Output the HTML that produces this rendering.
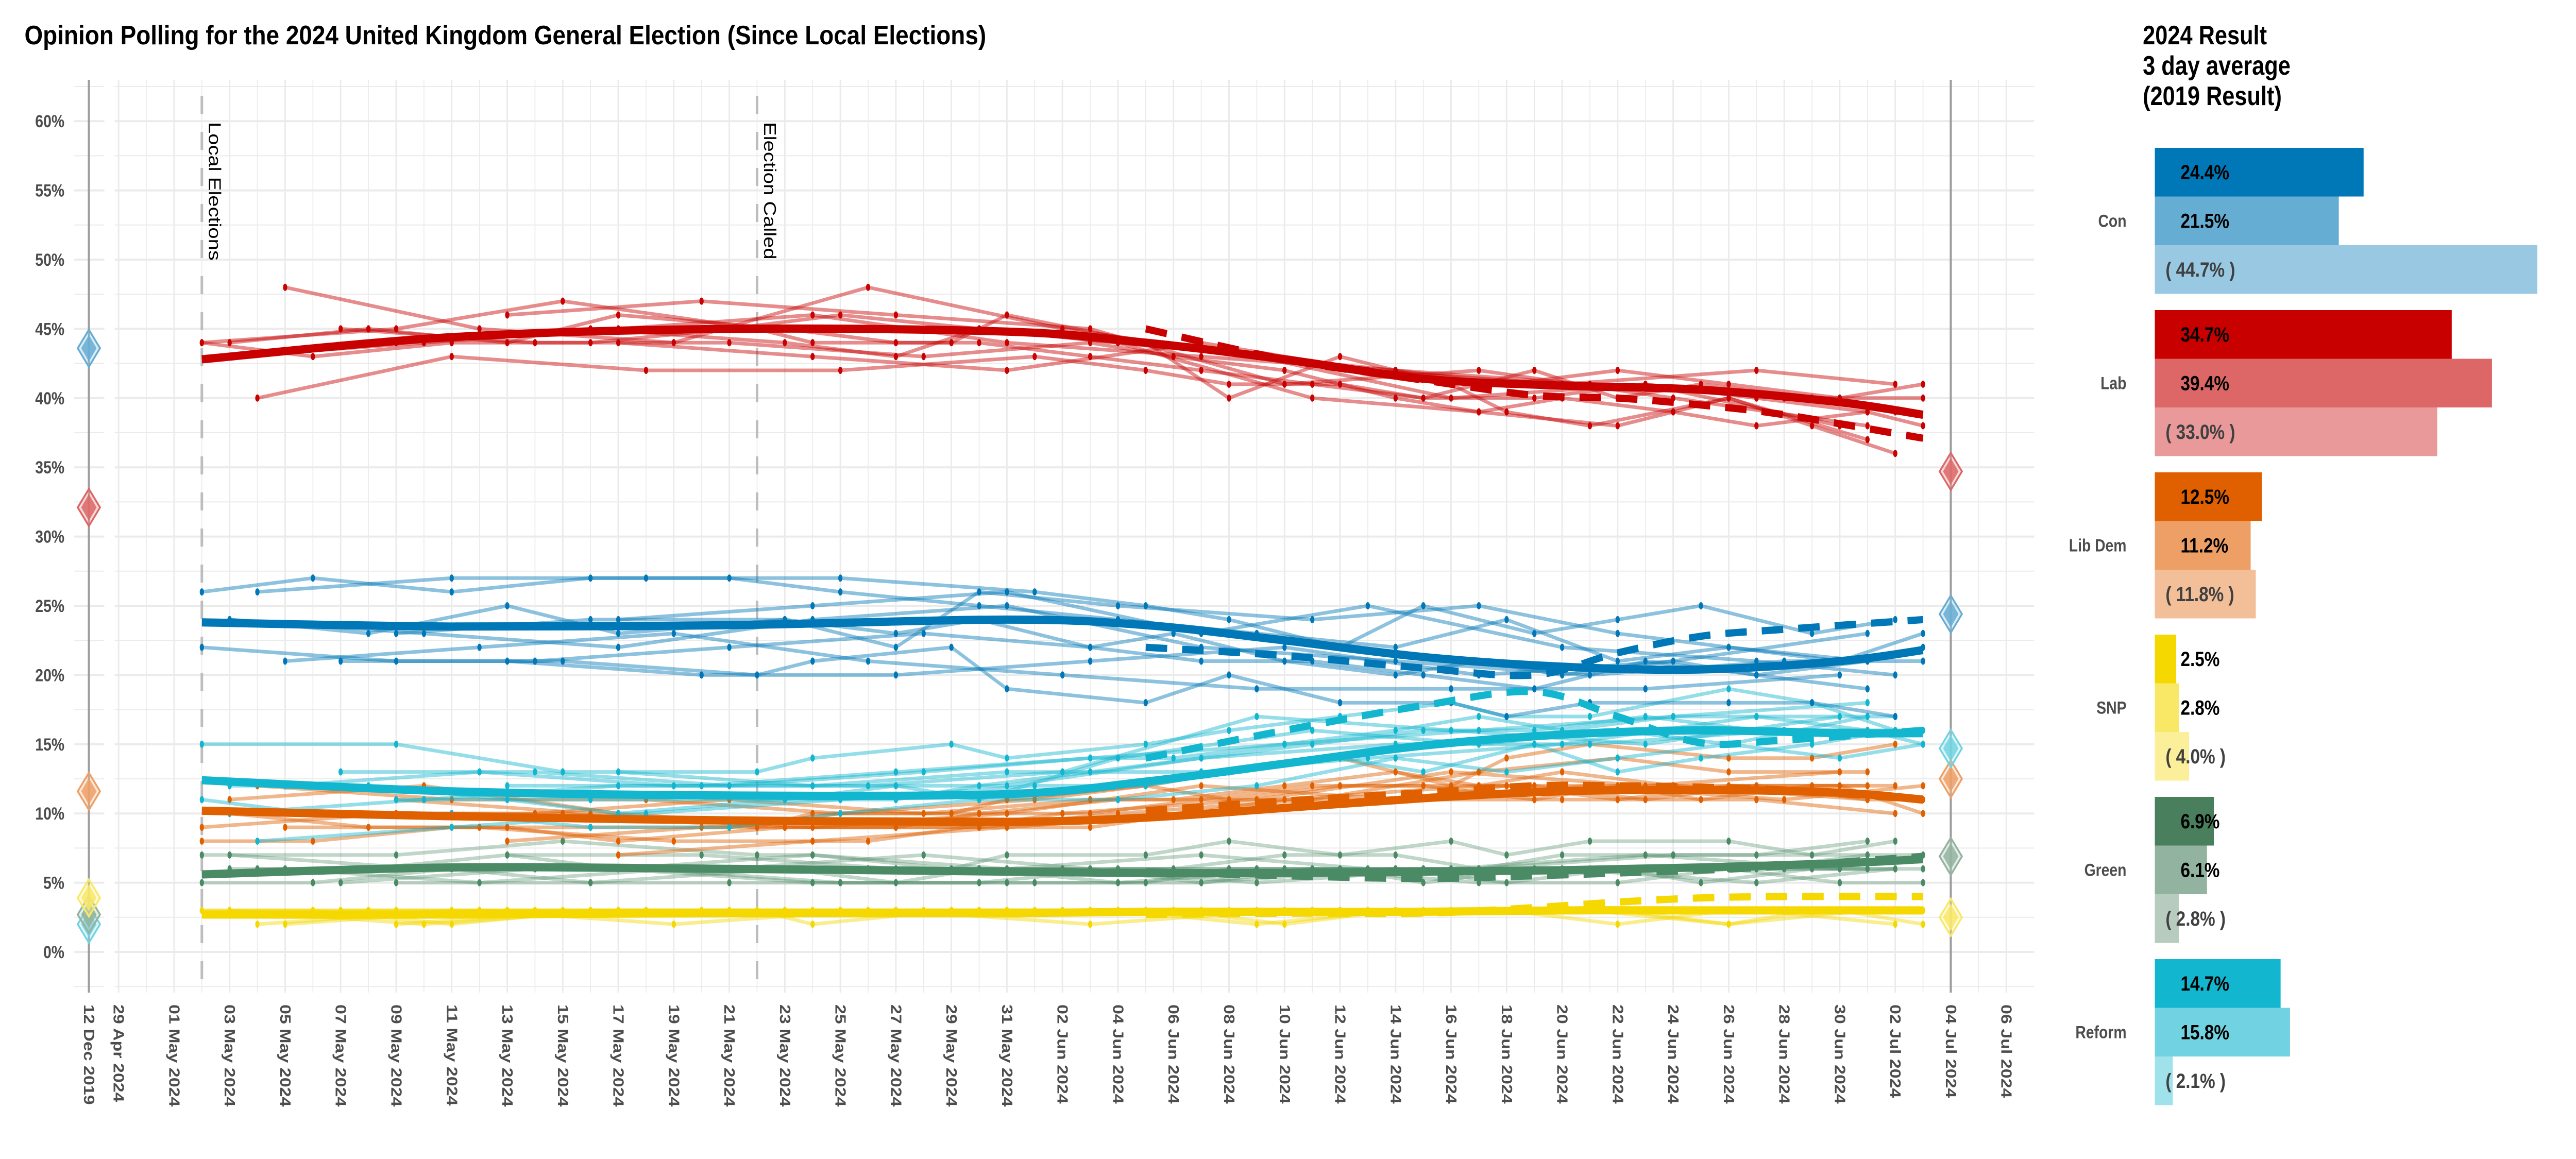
<!DOCTYPE html>
<html><head><meta charset="utf-8">
<style>
html,body{margin:0;padding:0;background:#fff;overflow:hidden;width:100%;height:100%;}
svg{display:block;width:100vw;height:100vh;font-family:"Liberation Sans",Arial,sans-serif;}
</style></head>
<body>
<svg id="chart" xmlns="http://www.w3.org/2000/svg" viewBox="0 0 6000 2250" preserveAspectRatio="none">
<text x="57" y="86" font-size="52" font-weight="bold" fill="#000" textLength="2240" lengthAdjust="spacingAndGlyphs">Opinion Polling for the 2024 United Kingdom General Election (Since Local Elections)</text>
<g id="grid"></g>
<g id="axes"></g>
<g id="polls"></g>
<g id="trends"></g>
<g id="markers"></g>
<g id="bars">
<text x="4991" y="86" font-size="52" font-weight="bold" fill="#000">2024 Result</text>
<text x="4991" y="145" font-size="52" font-weight="bold" fill="#000">3 day average</text>
<text x="4991" y="204" font-size="52" font-weight="bold" fill="#000">(2019 Result)</text>
</g>
</svg>
<script>
// ---------- data ----------
const parties = ["Con","Lab","LD","Ref","Grn","SNP"];
const partyLabels = ["Con","Lab","Lib Dem","SNP","Green","Reform"];
const result2024 = [24.4,34.7,12.5,2.5,6.9,14.7];
const avg3day = [21.5,39.4,11.2,2.8,6.1,15.8];
const result2019 = [44.7,33.0,11.8,4.0,2.8,2.1];
// diamonds (Con,Lab,LD,Ref,Grn,SNP order)
const diamond2019 = [43.6,32.1,11.6,2.0,2.7,3.9];
const diamond2024 = [24.4,34.7,12.5,14.7,6.9,2.5];
const yTicks = [0,5,10,15,20,25,30,35,40,45,50,55,60];
const xTickLabels = ["29 Apr 2024","01 May 2024","03 May 2024","05 May 2024","07 May 2024","09 May 2024","11 May 2024","13 May 2024","15 May 2024","17 May 2024","19 May 2024","21 May 2024","23 May 2024","25 May 2024","27 May 2024","29 May 2024","31 May 2024","02 Jun 2024","04 Jun 2024","06 Jun 2024","08 Jun 2024","10 Jun 2024","12 Jun 2024","14 Jun 2024","16 Jun 2024","18 Jun 2024","20 Jun 2024","22 Jun 2024","24 Jun 2024","26 Jun 2024","28 Jun 2024","30 Jun 2024","02 Jul 2024","04 Jul 2024","06 Jul 2024"];
const xTickDays = [-2,0,2,4,6,8,10,12,14,16,18,20,22,24,26,28,30,32,34,36,38,40,42,44,46,48,50,52,54,56,58,60,62,64,66];
// trend lines (days since 1 May)
const trendDays = [1,10,20,30,35,40,45,50,55,60,63];
const trendCon = [23.8,23.5,23.6,24.0,23.6,22.5,21.3,20.6,20.4,21.0,21.8];
const trendLab = [42.8,44.4,45.0,44.8,44.0,42.8,41.4,40.9,40.6,39.7,38.8];
const trendLD  = [10.2,9.8,9.5,9.4,9.7,10.4,11.1,11.6,11.7,11.5,11.0];
const trendRef = [12.4,11.6,11.3,11.4,12.3,13.6,14.9,15.7,16.0,15.8,15.8];
const trendGrn = [5.6,6.1,6.0,5.8,5.7,5.7,5.8,5.9,6.1,6.4,6.7];
const trendSNP = [2.7,2.7,2.8,2.8,2.9,2.9,2.9,3.0,3.0,3.0,3.0];
const dashDays = [35,40,45,49,52,55,58,63];
const dashCon = [22.0,21.4,20.5,20.0,21.6,22.8,23.3,24.0];
const dashLab = [45.0,42.8,41.3,40.2,40.0,39.5,38.8,37.1];
const dashLD  = [10.2,10.9,11.5,12.0,12.0,11.9,11.7,11.0];
const dashRef = [14.0,16.0,17.8,18.8,17.0,15.1,15.3,16.0];
const dashGrn = [5.8,5.5,5.3,5.5,5.7,5.9,6.2,6.9];
const dashSNP = [2.7,2.8,2.8,3.2,3.6,3.9,4.0,4.0];
// pollsters
const pollDays = [
 [2,7,12,16,22,26,29,33,37,41,45,49,53,57,61,63],
 [1,8,14,21,23,28,30,35,38,42,46,48,51,56,59,62],
 [1,5,10,15,20,24,29,34,39,44,48,52,56,60,63],
 [4,11,18,25,32,39,46,53,60],
 [3,10,17,24,31,35,38,42,45,49,52,55,59,62],
 [6,13,20,27,33,36,40,44,47,50,54,57,61],
 [2,9,16,23,30,37,44,51,58,63],
 [8,15,22,26,29,34,41,47,52,56,61],
 [12,19,26,33,40,47,54,61],
 [16,23,30,37,43,50,57,62]
];
const pollCon = [
 [24,23,25,23,24,23,24,22,21,21,20,19,21,20,21,22],
 [22,21,21,20,21,22,19,18,20,18,18,17,18,18,18,17],
 [26,27,26,27,27,26,25,24,23,22,24,21,22,21,23],
 [21,22,23,21,20,19,19,19,20],
 [26,27,27,27,26,25,24,22,25,23,24,25,23,24],
 [21,21,22,23,22,23,21,20,21,20,21,20,19],
 [24,23,22,24,25,22,21,20,21,21],
 [23,24,24,22,26,25,24,25,23,22,21],
 [21,20,20,21,22,20,21,23],
 [24,25,26,23,25,22,21,20]
];
const pollLab = [
 [44,45,44,46,45,44,44,43,42,41,40,40,41,40,39,38],
 [44,45,47,45,44,44,46,44,40,43,41,39,38,40,38,36],
 [44,43,44,44,45,46,45,44,43,42,41,42,41,40,41],
 [48,45,44,48,45,43,40,41,38],
 [40,43,42,42,43,42,41,41,40,42,40,41,40,39],
 [45,44,44,43,44,43,42,40,39,40,39,38,39],
 [43,44,45,46,44,43,42,41,40,40],
 [44,45,44,43,45,44,40,39,38,40,37],
 [46,47,46,45,41,42,40,38],
 [44,43,42,44,42,41,42,41]
];
const pollLD = [
 [10,9,9,8,9,9,10,10,11,12,12,12,11,12,11,11],
 [9,10,10,9,10,10,11,12,13,14,12,14,15,14,14,15],
 [8,8,9,9,9,10,10,11,11,11,12,11,12,12,10],
 [9,9,8,8,10,11,13,12,13],
 [12,11,11,10,11,12,11,12,12,11,12,11,12,12],
 [10,10,11,10,11,11,12,13,12,13,12,12,12],
 [11,12,10,9,10,12,11,12,11,12],
 [11,10,9,9,9,10,11,13,14,13,13],
 [8,9,9,9,11,12,12,11],
 [7,8,9,10,11,11,11,10]
];
const pollRef = [
 [12,12,11,10,11,11,12,13,14,15,16,16,17,16,16,15],
 [15,15,13,13,14,15,14,15,16,17,18,17,17,19,18,16],
 [11,10,10,9,9,10,11,11,12,14,13,14,15,14,15],
 [12,13,12,12,13,17,16,15,17],
 [8,9,10,11,12,12,13,14,13,15,13,14,15,16],
 [13,13,12,13,14,14,15,16,17,16,17,17,16],
 [10,11,12,12,12,14,15,15,16,16],
 [11,11,11,12,11,14,16,15,16,15,17],
 [12,12,13,14,15,16,17,18],
 [13,12,13,13,14,15,17,17]
];
const pollGrn = [
 [6,6,7,6,6,5,6,6,5,6,6,6,6,6,7,7],
 [7,7,8,7,7,6,7,7,8,7,8,7,8,8,7,8],
 [5,5,6,5,5,5,5,6,6,6,5,6,6,5,5],
 [6,5,6,6,6,5,6,7,6],
 [6,6,6,5,5,5,6,6,5,6,6,5,6,6],
 [5,6,6,7,6,6,7,7,6,7,7,7,8],
 [7,6,6,5,5,5,6,6,6,6],
 [5,5,6,6,6,5,6,5,5,6,6],
 [7,7,6,6,6,6,7,7],
 [6,7,6,7,6,6,5,6]
];
const pollSNP = [
 [3,3,3,3,3,3,3,3,3,3,3,3,3,3,3,3],
 [3,3,3,3,2,3,3,3,3,3,3,3,3,2,3,3],
 [3,3,2,3,3,3,3,3,2,3,3,2,3,3,2],
 [2,3,2,3,3,3,3,3,3],
 [2,3,3,3,3,3,3,3,3,3,3,3,3,3],
 [3,3,3,3,3,3,2,3,3,3,3,3,3],
 [3,2,3,3,3,3,3,3,3,3],
 [2,3,3,3,3,3,3,3,3,2,3],
 [3,3,3,2,3,3,3,3],
 [3,3,3,3,3,3,3,2]
];
// ---------- styling ----------
const colDark = {Con:"#0077b6",Lab:"#c80000",LD:"#e06000",Ref:"#12b6cf",Grn:"#4a8a64",SNP:"#f5d800"};
const colMid  = {Con:"#66add3",Lab:"#dd6666",LD:"#ed9f66",Ref:"#71d3e2",Grn:"#92b39f",SNP:"#f9e866"};
const colLight= {Con:"#99c9e2",Lab:"#e99999",LD:"#f3bf99",Ref:"#a0e2ec",Grn:"#b7ccbf",SNP:"#fbef99"};
const barDark = ["#0077b6","#c80000","#e06000","#f5d800","#4a7f5e","#12b6cf"];
const barMid  = ["#66add3","#dd6666","#ed9f66","#f9e866","#92b39f","#71d3e2"];
const barLight= ["#99c9e2","#e99999","#f3bf99","#fbef99","#b7ccbf","#a0e2ec"];

const NS="http://www.w3.org/2000/svg";
function mk(parent, tag, attrs){const e=document.createElementNS(NS,tag);for(const k in attrs)e.setAttribute(k,attrs[k]);parent.appendChild(e);return e;}
const xs = d => 405.5 + d*64.66;
const ys = v => 1848 - v*26.88;
const X2019 = 207;
const gGrid=document.getElementById('grid'), gAxes=document.getElementById('axes'),
      gPolls=document.getElementById('polls'), gTr=document.getElementById('trends'),
      gMk=document.getElementById('markers'), gBars=document.getElementById('bars');

// grid
const hGridVals=[-2.5,0,2.5,5,7.5,10,12.5,15,17.5,20,22.5,25,27.5,30,32.5,35,37.5,40,42.5,45,47.5,50,52.5,55,57.5,60,62.5];
hGridVals.forEach(v=>{
  const major = v%5===0;
  const a=mk(gGrid,'line',{x1:173,x2:243,y1:ys(v),y2:ys(v),stroke:'#ebebeb','stroke-width':major?4:2});
  
  
  const b=mk(gGrid,'line',{x1:267,x2:4738,y1:ys(v),y2:ys(v),stroke:'#ebebeb','stroke-width':major?4:2});
  
  
});
for(let d=-2;d<=66;d++){
  const l=mk(gGrid,'line',{x1:xs(d),x2:xs(d),y1:155,y2:1927,stroke:'#ebebeb','stroke-width':d%2===0?3.5:2});
  
  
}
// y labels
yTicks.forEach(v=>{
  const t=mk(gAxes,'text',{x:150,y:ys(v)+12,'text-anchor':'end','font-size':34,'font-weight':'bold',fill:'#4d4d4d'});
  t.textContent=v+'%';
  
  
});
// x labels
function xLabel(x,txt){
  const t=mk(gAxes,'text',{x:x,y:1950,'font-size':34,'font-weight':'bold',fill:'#4d4d4d','dominant-baseline':'central',transform:`rotate(90 ${x} 1950)`});
  t.textContent=txt;
  
  
}
xLabel(X2019,"12 Dec 2019");
xTickLabels.forEach((s,i)=>xLabel(xs(xTickDays[i]),s));
// vertical reference lines
[X2019, xs(64)].forEach((x,i)=>{
  const l=mk(gAxes,'line',{x1:x,x2:x,y1:155,y2:1927,stroke:'#9e9e9e','stroke-width':5});
  
  
});
[[1,'Local Elections'],[21,'Election Called']].forEach(([d,s])=>{
  const x=xs(d);
  const l=mk(gAxes,'line',{x1:x,x2:x,y1:186,y2:1927,stroke:'#bdbdbd','stroke-width':6,'stroke-dasharray':'35 35'});
  
  
  const t=mk(gAxes,'text',{x:x+30,y:237,'font-size':40,fill:'#000','dominant-baseline':'central',transform:`rotate(90 ${x+30} 237)`});
  t.textContent=s;
  
  
});

// polls
const pollSets={Con:pollCon,Lab:pollLab,LD:pollLD,Ref:pollRef,Grn:pollGrn,SNP:pollSNP};
const drawOrder=["SNP","Grn","LD","Ref","Con","Lab"];
drawOrder.forEach(p=>{
  const sets=pollSets[p];
  sets.forEach((vals,i)=>{
    const days=pollDays[i];
    const pts=vals.map((v,j)=>xs(days[j]).toFixed(1)+','+ys(v).toFixed(1)).join(' ');
    const pl=mk(gPolls,'polyline',{points:pts,fill:'none',stroke:colDark[p],'stroke-opacity':p==='Grn'?0.35:0.45,'stroke-width':7,'stroke-linejoin':'round'});
    
    
    vals.forEach((v,j)=>{
      const c=mk(gPolls,'ellipse',{cx:xs(days[j]),cy:ys(v),rx:5,ry:7,fill:colDark[p]});
      
      
    });
  });
});
// trends
const trendSets={Con:trendCon,Lab:trendLab,LD:trendLD,Ref:trendRef,Grn:trendGrn,SNP:trendSNP};
const dashSets={Con:dashCon,Lab:dashLab,LD:dashLD,Ref:dashRef,Grn:dashGrn,SNP:dashSNP};
function smoothPath(days,vals){
  const P=days.map((d,i)=>[xs(d),ys(vals[i])]);
  let s=`M${P[0][0]},${P[0][1]}`;
  for(let i=0;i<P.length-1;i++){
    const p0=P[i-1]||P[i],p1=P[i],p2=P[i+1],p3=P[i+2]||P[i+1];
    const c1=[p1[0]+(p2[0]-p0[0])/6,p1[1]+(p2[1]-p0[1])/6];
    const c2=[p2[0]-(p3[0]-p1[0])/6,p2[1]-(p3[1]-p1[1])/6];
    s+=` C${c1[0]},${c1[1]} ${c2[0]},${c2[1]} ${p2[0]},${p2[1]}`;
  }
  return s;
}
drawOrder.forEach(p=>{
  const dp=mk(gTr,'path',{d:smoothPath(dashDays,dashSets[p]),fill:'none',stroke:colDark[p],'stroke-width':14,'stroke-dasharray':'50 35'});
  
  
  const tp=mk(gTr,'path',{d:smoothPath(trendDays,trendSets[p]),fill:'none',stroke:colDark[p],'stroke-width':16,'stroke-linecap':'butt'});
  
  
});
// diamonds
function diamond(x,v,p){
  const y=ys(v);
  const o=mk(gMk,'polygon',{points:`${x},${y-36} ${x+26},${y} ${x},${y+36} ${x-26},${y}`,fill:colLight[p],'fill-opacity':0.35,stroke:colMid[p],'stroke-width':4});
  
  
  const i=mk(gMk,'polygon',{points:`${x},${y-26} ${x+18},${y} ${x},${y+26} ${x-18},${y}`,fill:colMid[p],'fill-opacity':0.85});
  
  
}
parties.forEach((p,i)=>{diamond(X2019,diamond2019[i],p);diamond(xs(64),diamond2024[i],p);});

// bars
const BX=5019, PX=19.93, BH=94.5, GTOP=287, GSTEP=315;
partyLabels.forEach((name,i)=>{
  const top=GTOP+i*GSTEP;
  const lab=mk(gBars,'text',{x:4953,y:top+BH*1.5+12,'text-anchor':'end','font-size':34,'font-weight':'bold',fill:'#4d4d4d'});
  lab.textContent=name;
  
  
  const vals=[result2024[i],avg3day[i],result2019[i]];
  const cols=[barDark[i],barMid[i],barLight[i]];
  vals.forEach((v,k)=>{
    const r=mk(gBars,'rect',{x:BX,y:top+k*BH,width:v*PX,height:BH,fill:cols[k]});
    
    
    const t=mk(gBars,'text',{x:k<2?5079:5044,y:top+k*BH+BH/2+14,'font-size':40,'font-weight':'bold',fill:k<2?'#000':'#404040'});
    t.textContent=k<2?v.toFixed(1)+'%':'( '+v.toFixed(1)+'% )';
    
    
  });
});
</script>
</body></html>
